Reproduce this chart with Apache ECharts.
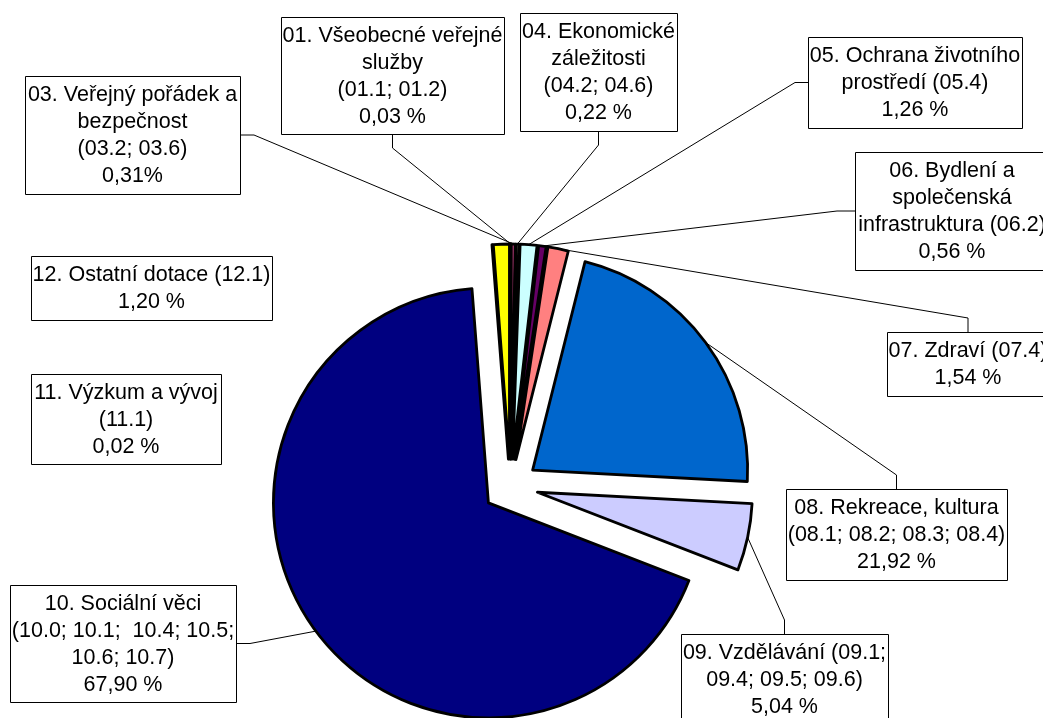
<!DOCTYPE html>
<html>
<head>
<meta charset="utf-8">
<script src="https://cdn.jsdelivr.net/npm/echarts@6/dist/echarts.min.js"></script>
<style>
html,body{margin:0;padding:0;background:#fff;}
#chart{width:1043px;height:718px;}
</style>
</head>
<body>
<div id="chart"></div>
<script>
// ---- data ----
const categories = [
  "01. Všeobecné veřejné\nslužby\n(01.1; 01.2)",
  "03. Veřejný pořádek a\nbezpečnost\n(03.2; 03.6)",
  "04. Ekonomické\nzáležitosti\n(04.2; 04.6)",
  "05. Ochrana životního\nprostředí (05.4)",
  "06. Bydlení a\nspolečenská\ninfrastruktura (06.2)",
  "07. Zdraví (07.4)",
  "08. Rekreace, kultura\n(08.1; 08.2; 08.3; 08.4)",
  "09. Vzdělávání (09.1;\n09.4; 09.5; 09.6)",
  "10. Sociální věci\n(10.0; 10.1;  10.4; 10.5;\n10.6; 10.7)",
  "11. Výzkum a vývoj\n(11.1)",
  "12. Ostatní dotace (12.1)"
];
const values = [0.03, 0.31, 0.22, 1.26, 0.56, 1.54, 21.92, 5.04, 67.90, 0.02, 1.20];
const percentSuffix = [" %", "%", " %", " %", " %", " %", " %", " %", " %", " %", " %"];
const colors = ["#9999FF", "#993366", "#FFFFCC", "#CCFFFF", "#660066", "#FF8080",
                "#0066CC", "#CCCCFF", "#000080", "#FF00FF", "#FFFF00"];

// ---- layout (label boxes: left, top, width, height, leader side, elbow length) ----
const boxLayout = [
  [281, 17, 223, 117, "bottom", 14],
  [25, 76, 215, 118, "right", 14],
  [520, 13, 157, 118, "bottom", 14],
  [808, 37, 214, 91, "left", 13],
  [855, 152, 194, 118, "left", 18],
  [887, 332, 162, 64, "top", 14],
  [786, 489, 221, 91, "top", 14],
  [681, 634, 207, 91, "top", 14],
  [10, 585, 226, 117, "right", 14],
  [31, 374, 190, 90, null, 0],
  [31, 256, 241, 64, null, 0]
];
const PIE_CENTER = [510.5, 486.5];
const PIE_R = 215;
const EXPLODE = 27.5;
const FONT = '21.5px "Liberation Sans", Arial, sans-serif';
const LINE_H = 27;

const chart = echarts.init(document.getElementById("chart"), null, {renderer: "canvas"});

chart.setOption({
  animation: false,
  backgroundColor: "#ffffff",
  series: [{
    type: "pie",
    center: PIE_CENTER,
    radius: PIE_R,
    startAngle: 90,
    clockwise: true,
    minAngle: 0,
    selectedMode: "multiple",
    selectedOffset: EXPLODE,
    avoidLabelOverlap: false,
    label: {show: false},
    labelLine: {show: false},
    itemStyle: {borderColor: "#000", borderWidth: 2.8},
    emphasis: {disabled: true, scale: false},
    data: values.map((v, i) => ({
      name: categories[i],
      value: v,
      selected: true,
      itemStyle: {color: colors[i]},
      select: {itemStyle: {color: colors[i], borderColor: "#000", borderWidth: 2.8}}
    }))
  }]
});

function fmt(v, i) {
  return v.toFixed(2).replace(".", ",") + percentSuffix[i];
}

function getAnchors() {
  const data = chart.getModel().getSeriesByIndex(0).getData();
  return values.map((v, i) => {
    const l = data.getItemLayout(i);
    const mid = (l.startAngle + l.endAngle) / 2;
    const rr = l.r + EXPLODE;
    return [l.cx + rr * Math.cos(mid), l.cy + rr * Math.sin(mid)];
  });
}

const anchors = getAnchors();
const graphics = [];
boxLayout.forEach((b, i) => {
  const [x, y, w, h, side, el] = b;
  if (side) {
    let attach, elbow;
    if (side === "bottom") { attach = [x + w / 2, y + h]; elbow = [attach[0], attach[1] + el]; }
    else if (side === "top") { attach = [x + w / 2, y]; elbow = [attach[0], attach[1] - el]; }
    else if (side === "left") { attach = [x, y + h / 2]; elbow = [attach[0] - el, attach[1]]; }
    else { attach = [x + w, y + h / 2]; elbow = [attach[0] + el, attach[1]]; }
    graphics.push({
      type: "polyline", silent: true, z: 10,
      shape: {points: [anchors[i], elbow, attach]},
      style: {stroke: "#000", lineWidth: 1, fill: null}
    });
  }
  graphics.push({
    type: "rect", silent: true, z: 11,
    shape: {x: x + 0.5, y: y + 0.5, width: w, height: h},
    style: {fill: "#fff", stroke: "#000", lineWidth: 1}
  });
  graphics.push({
    type: "text", silent: true, z: 12,
    x: x + w / 2, y: y + h / 2 + 1,
    style: {
      text: categories[i] + "\n" + fmt(values[i], i),
      font: FONT, fill: "#000",
      align: "center", verticalAlign: "middle",
      textAlign: "center", textVerticalAlign: "middle",
      lineHeight: LINE_H
    }
  });
});

chart.setOption({graphic: {elements: graphics}});
</script>
</body>
</html>
